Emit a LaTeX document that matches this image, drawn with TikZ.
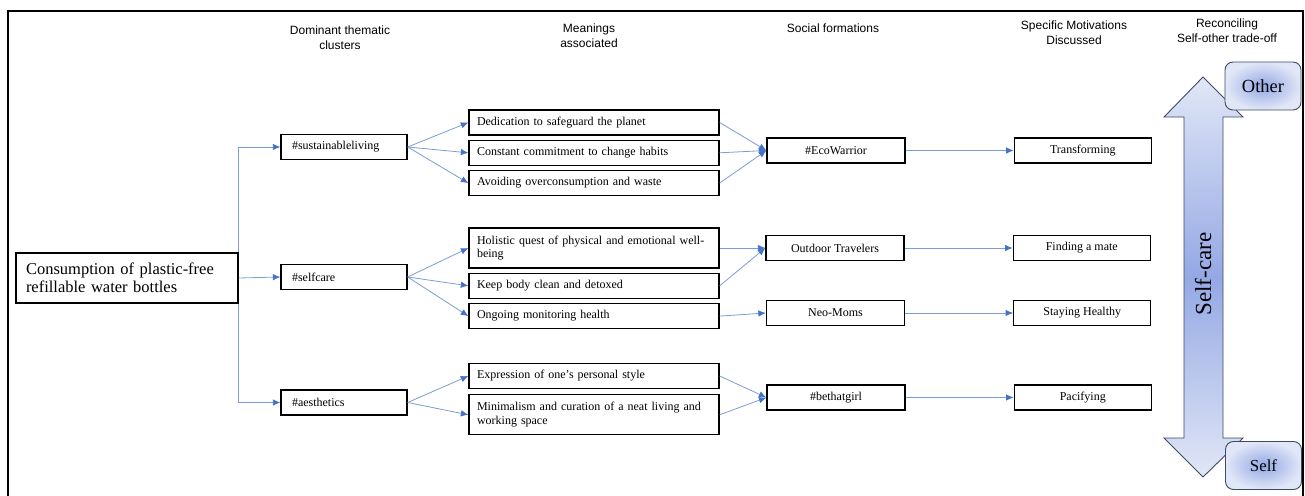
\documentclass[tikz,border=0pt]{standalone}
\usepackage{fontspec}
\setmainfont{Liberation Serif}
\setsansfont{Liberation Sans}
\usetikzlibrary{positioning, arrows.meta}
\definecolor{linkblue}{RGB}{68,114,196}
\definecolor{pale}{RGB}{225,231,247}
\definecolor{midblue}{RGB}{148,168,228}
\definecolor{edgegray}{RGB}{62,74,102}
\tikzset{
    x=1pt, y=-1pt,
    box/.style={draw, line width=1.3pt, inner ysep=0pt, minimum height=25pt, font=\fontsize{12}{13.5}\selectfont},
    meaning/.style={box, text width=234pt, inner xsep=8pt, align=left},
    cluster/.style={box, text width=104pt, inner xsep=11pt, align=left},
    formation/.style={box, minimum width=138pt, align=center},
    head/.style={font=\sffamily\fontsize{12}{15}\selectfont, align=center},
    link/.style={draw=linkblue!70, line width=0.8pt, -{Latex[length=7.5pt,width=6.5pt,color=linkblue]}},
    pole/.style={draw=edgegray, line width=0.9pt, rounded corners=8pt, minimum width=76pt, minimum height=48pt, inner color=midblue, outer color=pale}
}

\begin{document}
\begin{tikzpicture}
    \useasboundingbox (0,0) rectangle (1305,495);
    \draw[line width=2pt] (8,505) -- (8,11) -- (1303,11) -- (1303,505);

    % column heads
    \node[head] (h1) at (340,37.5) {Dominant thematic\\clusters};
    \node[head] (h2) at (589,35.5) {Meanings\\associated};
    \node[head] (h3) at (833,28) {Social formations};
    \node[head] (h4) at (1074,32.5) {Specific Motivations\\Discussed};
    \node[head] (h5) at (1227,30.5) {Reconciling\\Self-other trade-off};

    \node[box, text width=202pt, inner xsep=10pt, minimum height=50pt, align=left,
        font=\fontsize{16.5}{18.5}\selectfont] (root) at (127,278)
        {Consumption of plastic-free\\refillable water bottles};

    \node[cluster] (sust) at (344,147) {\#sustainableliving};
    \node[cluster] (self) at (344,277) {\#selfcare};
    \node[cluster] (aest) at (344,402.5) {\#aesthetics};

    \node[meaning] (m1) at (594,122.5) {Dedication to safeguard the planet};
    \node[meaning, below=4pt of m1] (m2) {Constant commitment to change habits};
    \node[meaning, below=4pt of m2] (m3) {Avoiding overconsumption and waste};
    \node[meaning, minimum height=40pt] (m4) at (594,248)
        {Holistic quest of physical and emotional well-\\being};
    \node[meaning, below=4pt of m4] (m5) {Keep body clean and detoxed};
    \node[meaning, below=4pt of m5] (m6) {Ongoing monitoring health};
    \node[meaning] (m7) at (594,376) {Expression of one's personal style};
    \node[meaning, minimum height=40pt, below=5pt of m7] (m8)
        {Minimalism and curation of a neat living and\\working space};

    \node[formation] (eco) at (836,150.5) {\#EcoWarrior};
    \node[formation] (outdoor) at (835,248) {Outdoor Travelers};
    \node[formation] (neo) at (835.5,313) {Neo-Moms};
    \node[formation] (bethat) at (836,397.5) {\#bethatgirl};

    \node[formation, minimum width=137pt, right=108pt of eco] (trans) {Transforming};
    \node[formation, minimum width=137pt, right=108pt of outdoor] (mate) {Finding a mate};
    \node[formation, minimum width=137pt, right=108pt of neo] (healthy) {Staying Healthy};
    \node[formation, minimum width=137pt, right=108pt of bethat] (pacify) {Pacifying};

    \draw[link] (root.east) -- (self.west);
    \draw[link] (root.north east) |- (sust.west);
    \draw[link] (root.south east) |- (aest.west);

    \path (sust.east) edge[link] (m1.west)
        (sust.east) edge[link] (m2.west)
        (sust.east) edge[link] (m3.west)
        (self.east) edge[link] (m4.west)
        (self.east) edge[link] (m5.west)
        (self.east) edge[link] (m6.west)
        (aest.east) edge[link] (m7.west)
        (aest.east) edge[link] (m8.west);
    \path (m1.east) edge[link] (eco.west)
        (m2.east) edge[link] (eco.west)
        (m3.east) edge[link] (eco.west)
        (m4.east) edge[link] (outdoor.west)
        (m5.east) edge[link] (outdoor.west)
        (m6.east) edge[link] (neo.west)
        (m7.east) edge[link] (bethat.west)
        (m8.east) edge[link] (bethat.west);
    \path (eco) edge[link] (trans)
        (outdoor) edge[link] (mate)
        (neo) edge[link] (healthy)
        (bethat) edge[link] (pacify);

    % self-other double arrow
    \shade[draw=edgegray, line width=0.9pt, top color=pale, bottom color=pale, middle color=midblue]
        (1203,77) -- (1243,117) -- (1223,117) -- (1223,438) -- (1243,438) -- (1203,477)
        -- (1164,438) -- (1184,438) -- (1184,117) -- (1164,117) -- cycle;
    \node[rotate=90, font=\fontsize{23}{23}\selectfont] (care) at (1203,274) {Self-care};
    \node[pole, font=\fontsize{18.5}{18.5}\selectfont] (other) at (1263,86) {Other};
    \node[pole, font=\fontsize{16.8}{16.8}\selectfont] (selfpole) at (1263.5,465.5) {Self};
\end{tikzpicture}
\end{document}
